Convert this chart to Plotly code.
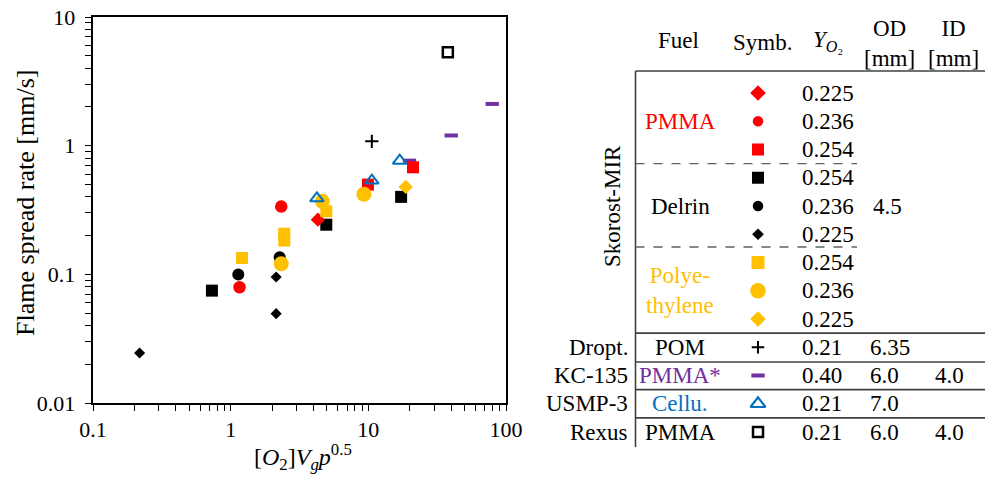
import plotly.graph_objects as go

# ---------------- data ----------------
pmma_225_x = [4.30];               pmma_225_y = [0.266]
pmma_236_x = [1.16, 2.33];         pmma_236_y = [0.0794, 0.336]
pmma_254_x = [9.93, 21.1];         pmma_254_y = [0.498, 0.679]
delrin_254_x = [0.731, 4.95, 17.3]; delrin_254_y = [0.0747, 0.243, 0.40]
delrin_236_x = [1.136, 2.27];      delrin_236_y = [0.0995, 0.136]
delrin_225_x = [0.218, 2.14, 2.14]; delrin_225_y = [0.0245, 0.0955, 0.0495]
pe_254_x = [1.21, 2.45, 2.45, 4.95]; pe_254_y = [0.134, 0.207, 0.183, 0.309]
pe_236_x = [2.33, 4.63, 9.29];     pe_236_y = [0.121, 0.37, 0.42]
pe_225_x = [18.7];                 pe_225_y = [0.478]
pom_x = [10.6];                    pom_y = [1.08]
kc135_x = [19.9, 40.0, 79.4];      kc135_y = [0.765, 1.2, 2.11]
usmp_x = [4.23, 10.6, 16.9];       usmp_y = [0.39, 0.535, 0.765]
rexus_x = [37.8];                  rexus_y = [5.31]

x_tickvals = [0.1, 1, 10, 100]
x_ticktext = ["0.1", "1", "10", "100"]
y_tickvals = [0.01, 0.1, 1, 10]
y_ticktext = ["0.01", "0.1", "1", "10"]

# table content
tab_fuel = ["PMMA", "Delrin", "Polye-<br>thylene", "POM", "PMMA*", "Cellu.", "PMMA"]
tab_fuel_rows = [1, 4, 7, 9, 10, 11, 12]
tab_yo2 = ["0.225", "0.236", "0.254", "0.254", "0.236", "0.225", "0.254", "0.236", "0.225",
           "0.21", "0.40", "0.21", "0.21"]
tab_od = {4: "4.5", 9: "6.35", 10: "6.0", 11: "7.0", 12: "6.0"}
tab_id = {10: "4.0", 12: "4.0"}
tab_exp = ["Dropt.", "KC-135", "USMP-3", "Rexus"]
tab_exp_rows = [9, 10, 11, 12]

RED = "#FF0000"; BLK = "#000000"; YEL = "#FFC000"; PUR = "#7030A0"; BLU = "#0070C0"
FONT = "Liberation Serif"


def with_minor(vals, labels, pad=""):
    """major decade ticks plus unlabeled 2..9 minor ticks"""
    tv, tt = [], []
    for v, lab in zip(vals, labels):
        tv.append(v); tt.append(lab + pad)
        if v != vals[-1]:
            for m in range(2, 10):
                tv.append(v * m); tt.append("")
    return tv, tt


xtv, xtt = with_minor(x_tickvals, x_ticktext)
ytv, ytt = with_minor(y_tickvals, y_ticktext, pad="\u00a0")

fig = go.Figure()

def add(x, y, symbol, color, size, lw=0):
    fig.add_trace(go.Scatter(
        x=x, y=y, mode="markers", showlegend=False, hoverinfo="skip",
        marker=dict(symbol=symbol, color=color, size=size, opacity=1,
                    line=dict(color=color, width=lw))))

# draw order follows overlaps seen in the reference
add(delrin_225_x, delrin_225_y, "diamond", BLK, 8.5)
add(delrin_236_x, delrin_236_y, "circle", BLK, 12)
add(delrin_254_x, delrin_254_y, "square", BLK, 12)
add(kc135_x, kc135_y, "line-ew", PUR, 9.5, 4)
add(pmma_225_x, pmma_225_y, "diamond", RED, 11)
add(pmma_236_x, pmma_236_y, "circle", RED, 12.5)
add(pmma_254_x, pmma_254_y, "square", RED, 12)
add(pe_254_x, pe_254_y, "square", YEL, 12)
add(pe_236_x, pe_236_y, "circle", YEL, 15)
add(pe_225_x, pe_225_y, "diamond", YEL, 11)
add(pom_x, pom_y, "cross-thin", BLK, 9.5, 2)
add(usmp_x, usmp_y, "triangle-up-open", BLU, 12, 2)
add(rexus_x, rexus_y, "square-open", BLK, 10, 2.5)

# ---------------- table symbols (hidden axes x2/y2, row index on y) ----------------
sym_rows = list(range(13))
sym_symbol = ["diamond", "circle", "square", "square", "circle", "diamond",
              "square", "circle", "diamond", "cross-thin", "line-ew",
              "triangle-up-open", "square-open"]
sym_color = [RED, RED, RED, BLK, BLK, BLK, YEL, YEL, YEL, BLK, PUR, BLU, BLK]
sym_size = [12, 10.5, 12, 12, 10.5, 9, 13, 15.5, 12, 9, 9.5, 13, 10]
sym_lw = [0, 0, 0, 0, 0, 0, 0, 0, 0, 2, 4, 2.2, 2.5]
SYM_COL = 758
fig.add_trace(go.Scatter(
    x=[SYM_COL] * len(sym_rows), y=sym_rows, mode="markers", showlegend=False,
    hoverinfo="skip", xaxis="x2", yaxis="y2",
    marker=dict(symbol=sym_symbol, color=sym_color, size=sym_size, opacity=1,
                line=dict(color=sym_color, width=sym_lw))))

ann = []
def T(x, y, text, color=BLK, size=23, xanchor="center", **kw):
    ann.append(dict(x=x, y=y, xref="x2", yref="y2", text=text, showarrow=False,
                    xanchor=xanchor, yanchor="middle",
                    font=dict(family=FONT, size=size, color=color), **kw))

# header
T(678, -1.85, "Fuel")
T(762, -1.78, "Symb.")
T(828, -1.85, "<i>Y</i><sub><i>O</i>₂</sub>")
T(889, -1.75, "OD<br>[mm]")
T(953, -1.75, "ID<br>[mm]")

fuel_colors = [RED, BLK, YEL, BLK, PUR, BLU, BLK]
for txt, r, c in zip(tab_fuel, tab_fuel_rows, fuel_colors):
    T(680, r, txt, c)
for r, v in enumerate(tab_yo2):
    T(800, r, v, xanchor="left")
for r, v in tab_od.items():
    T(868 if r != 4 else 871, r, v, xanchor="left")
for r, v in tab_id.items():
    T(949, r, v)
for txt, r in zip(tab_exp, tab_exp_rows):
    T(630, r, txt, xanchor="right")
T(612, 4.0, "Skorost-MIR", textangle=-90)

# axis titles of the scatter plot (paper coordinates)
ann.append(dict(x=303 / 985, y=1 - 457 / 477, xref="paper", yref="paper",
                text="[<i>O</i><sub>2</sub>]<i>V<sub>g</sub>p</i><sup>0.5</sup>",
                showarrow=False, xanchor="center", yanchor="middle",
                font=dict(family=FONT, size=24, color=BLK)))
ann.append(dict(x=25 / 985, y=1 - 203 / 477, xref="paper", yref="paper",
                text="Flame spread rate [mm/s]", textangle=-90,
                showarrow=False, xanchor="center", yanchor="middle",
                font=dict(family=FONT, size=26, color=BLK)))

shapes = []
LC = "#404040"
def L(x0, x1, y0, y1, dash="solid", color=LC, w=1.6):
    shapes.append(dict(type="line", xref="x2", yref="y2", x0=x0, x1=x1, y0=y0, y1=y1,
                       line=dict(color=color, width=w, dash=dash)))
L(635.5, 985, -0.78, -0.78)
L(635.5, 635.5, -0.78, 12.53)
L(635.5, 857, 2.5, 2.5, dash="dash", color="#606060", w=1.4)
L(635.5, 857, 5.45, 5.45, dash="dash", color="#606060", w=1.4)
for yy in [8.5, 9.52, 10.5, 11.5]:
    L(635.5, 985, yy, yy)

# ---------------- layout ----------------
X0 = 541.75
fig.update_layout(
    width=985, height=477, margin=dict(l=0, r=0, t=0, b=0, autoexpand=False),
    paper_bgcolor="white", plot_bgcolor="white",
    font=dict(family=FONT, size=22, color="black"),
    annotations=ann, shapes=shapes,
    xaxis=dict(type="log", range=[-1, 2], domain=[93 / 985, 506 / 985], automargin=False,
               showline=True, linecolor="black", linewidth=1.6, mirror=True,
               ticks="outside", ticklen=6, tickwidth=1.4, tickcolor="black",
               tickmode="array", tickvals=xtv, ticktext=xtt,
               showgrid=False, zeroline=False, tickfont=dict(size=22)),
    yaxis=dict(type="log", range=[-2, 1], domain=[1 - 403 / 477, 1 - 17 / 477],
               automargin=False,
               showline=True, linecolor="black", linewidth=1.6, mirror=True,
               ticks="outside", ticklen=6, tickwidth=1.4, tickcolor="black",
               tickmode="array", tickvals=ytv, ticktext=ytt,
               showgrid=False, zeroline=False, tickfont=dict(size=22)),
    xaxis2=dict(domain=[X0 / 985, 1], range=[X0, 985], visible=False, anchor="y2"),
    yaxis2=dict(domain=[0, 1], range=[(477 - 93) / 28.25, -93 / 28.25], visible=False,
                anchor="x2"),
)

fig.write_html("out.html")
